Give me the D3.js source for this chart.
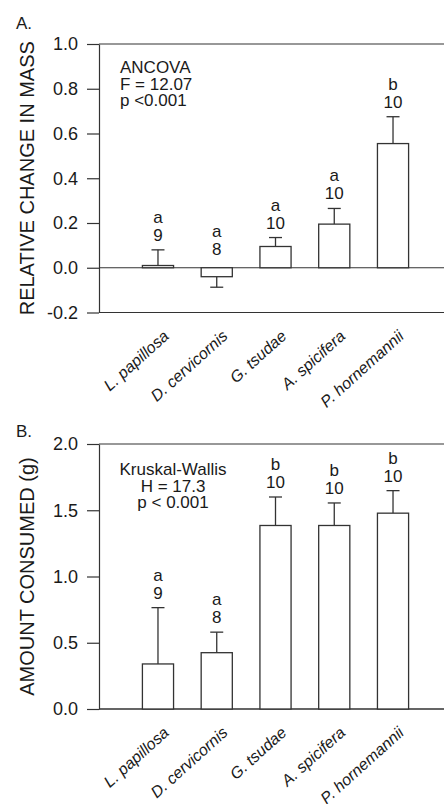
<!DOCTYPE html>
<html><head><meta charset="utf-8">
<script src="https://cdn.jsdelivr.net/npm/d3@7"></script>
<style>
body{margin:0;background:#fff;}
text{font-family:"Liberation Sans",Arial,Helvetica,sans-serif;fill:#1a1a1a;}
</style></head>
<body><svg id="c" width="444" height="804"></svg>
<script>
const categories = ["L. papillosa","D. cervicornis","G. tsudae","A. spicifera","P. hornemannii"];
const massMean = [0.01, -0.04, 0.095, 0.195, 0.555];
const massSE   = [0.07, 0.047, 0.04, 0.07, 0.12];
const massLetters = ["a","a","a","a","b"];
const consumedMean = [0.34, 0.425, 1.385, 1.385, 1.478];
const consumedSE   = [0.425, 0.155, 0.215, 0.17, 0.17];
const consumedLetters = ["a","a","b","b","b"];
const sampleN = [9, 8, 10, 10, 10];
const massTicks = [-0.2, 0.0, 0.2, 0.4, 0.6, 0.8, 1.0];
const consumedTicks = [0.0, 0.5, 1.0, 1.5, 2.0];

const svg = d3.select("#c");
const stroke = "#333";

function panel(cfg){
  const g = svg.append("g");
  const y = d3.scaleLinear().domain(cfg.domain).range([cfg.bottom, cfg.top]);
  const x = d3.scaleBand().domain(categories).range([128.6, 422.4]).paddingInner(0.47).paddingOuter(0.235);
  const axisX = 99, right = 444;
  // y axis
  const ya = g.append("g").attr("transform",`translate(${axisX},0)`)
    .call(d3.axisLeft(y).tickValues(cfg.ticks).tickFormat(d3.format(".1f")).tickSize(12).tickPadding(9).tickSizeOuter(0));
  ya.select(".domain").attr("stroke",stroke).attr("stroke-width",1.2);
  ya.selectAll(".tick line").attr("stroke",stroke).attr("stroke-width",1.2);
  ya.selectAll(".tick text").style("font-size","18px").attr("fill","#1a1a1a")
    .text(d=> d<0 ? "-"+d3.format(".1f")(-d) : d3.format(".1f")(d));
  // horizontal lines: top, zero, bottom
  const hl = [cfg.domain[1], 0, cfg.domain[0]];
  g.selectAll("line.h").data(hl).join("line").attr("class","h")
    .attr("x1",axisX).attr("x2",right).attr("y1",d=>y(d)).attr("y2",d=>y(d))
    .attr("stroke",stroke).attr("stroke-width",1.2);
  const data = categories.map((c,i)=>({c, m:cfg.mean[i], se:cfg.se[i], l:cfg.letters[i], n:sampleN[i]}));
  // error bars
  const cap = 13;
  const eg = g.selectAll("g.err").data(data).join("g").attr("class","err");
  eg.append("line").attr("x1",d=>x(d.c)+x.bandwidth()/2).attr("x2",d=>x(d.c)+x.bandwidth()/2)
    .attr("y1",d=>y(d.m)).attr("y2",d=>y(d.m>=0? d.m+d.se : d.m-d.se)).attr("stroke",stroke).attr("stroke-width",1.3);
  eg.append("line").attr("x1",d=>x(d.c)+x.bandwidth()/2-cap/2).attr("x2",d=>x(d.c)+x.bandwidth()/2+cap/2)
    .attr("y1",d=>y(d.m>=0? d.m+d.se : d.m-d.se)).attr("y2",d=>y(d.m>=0? d.m+d.se : d.m-d.se)).attr("stroke",stroke).attr("stroke-width",1.3);
  // bars
  g.selectAll("rect.bar").data(data).join("rect").attr("class","bar")
    .attr("x",d=>x(d.c)).attr("width",x.bandwidth())
    .attr("y",d=>y(Math.max(0,d.m))).attr("height",d=>Math.abs(y(d.m)-y(0)))
    .attr("fill","#fff").attr("stroke",stroke).attr("stroke-width",1.3);
  // labels
  const lab = g.selectAll("g.lab").data(data).join("g").attr("class","lab")
    .attr("transform",d=>{
      const base = d.m>=0 ? y(d.m+d.se)-9 : y(0)-13;
      return `translate(${x(d.c)+x.bandwidth()/2},${base})`;});
  lab.append("text").attr("text-anchor","middle").style("font-size","17px").text(d=>d.n);
  lab.append("text").attr("text-anchor","middle").attr("y",-18).style("font-size","17px").text(d=>d.l);
  // category labels
  g.selectAll("text.cat").data(categories).join("text").attr("class","cat")
    .attr("transform",d=>`translate(${x(d)+x.bandwidth()/2+12},${cfg.bottom+25}) rotate(-42)`)
    .attr("text-anchor","end").style("font-size","16px").style("font-style","italic").text(d=>d);
  // y title
  g.append("text").attr("transform",`translate(34,${(cfg.top+cfg.bottom)/2}) rotate(-90)`)
    .attr("text-anchor","middle").style("font-size","20px").text(cfg.title);
  // panel letter
  g.append("text").attr("x",16).attr("y",cfg.letterY).style("font-size","17px").text(cfg.letter);
  // stats
  cfg.stats(g);
}

panel({domain:[-0.2,1.0], top:44, bottom:312.5, ticks:massTicks, mean:massMean, se:massSE, letters:massLetters,
  title:"RELATIVE CHANGE IN MASS", letter:"A.", letterY:29,
  stats:g=>{
    const t=g.append("text").attr("x",120).style("font-size","17px");
    [["ANCOVA",73],["F = 12.07",90],["p <0.001",106]].forEach(([s,yy])=>t.append("tspan").attr("x",120).attr("y",yy).text(s));
  }});
panel({domain:[0,2.0], top:444, bottom:709, ticks:consumedTicks, mean:consumedMean, se:consumedSE, letters:consumedLetters,
  title:"AMOUNT CONSUMED (g)", letter:"B.", letterY:437,
  stats:g=>{
    const t=g.append("text").attr("text-anchor","middle").style("font-size","17px");
    [["Kruskal-Wallis",475],["H = 17.3",492],["p < 0.001",508]].forEach(([s,yy])=>t.append("tspan").attr("x",173).attr("y",yy).text(s));
  }});
</script></body></html>
